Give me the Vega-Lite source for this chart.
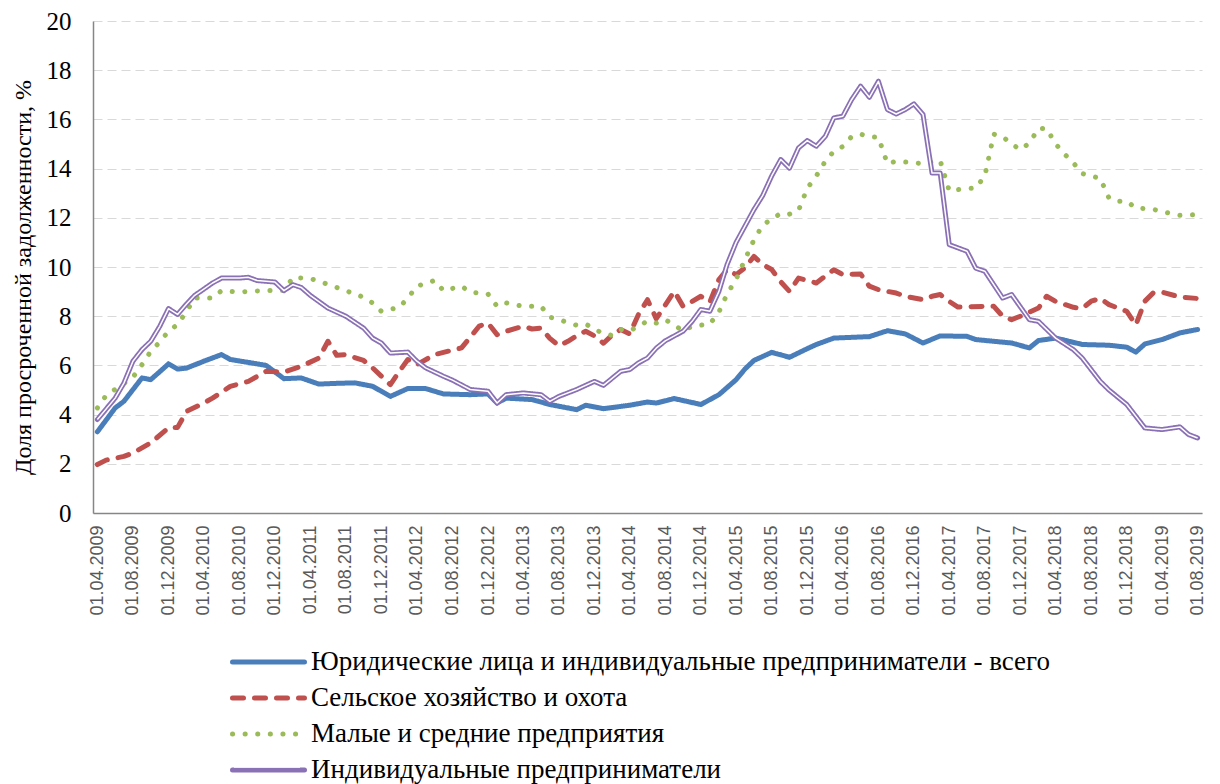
{
  "$schema": "https://vega.github.io/schema/vega-lite/v6.json",
  "autosize": {"type": "none"},
  "width": 1109,
  "height": 492,
  "padding": {"left": 93, "top": 21, "right": 18, "bottom": 271},
  "background": "white",
  "config": {
    "view": {"stroke": null},
    "axisY": {"grid": true, "gridColor": "#d9d9d9", "gridDash": [9, 5], "gridWidth": 1, "domainColor": "#868686", "domainWidth": 1.5, "ticks": false, "labelFont": "Liberation Serif", "labelFontSize": 25, "labelColor": "#000000", "labelPadding": 22},
    "axisX": {"grid": false, "ticks": false, "domainColor": "#868686", "domainWidth": 1.5, "labelFont": "Liberation Sans", "labelFontSize": 18, "labelColor": "#595959", "labelPadding": 12},
    "legend": {"labelFont": "Liberation Serif", "labelFontSize": 27, "labelColor": "#000000", "labelLimit": 1000}
  },
  "datasets": {
    "names": [
      {"s": "B", "series": "Юридические лица и индивидуальные предприниматели - всего"},
      {"s": "R", "series": "Сельское хозяйство и охота"},
      {"s": "G", "series": "Малые и средние предприятия"},
      {"s": "P", "series": "Индивидуальные предприниматели"}
    ]
  },
  "data": {"values": [
    {"date": "2009/04/01", "s": "B", "value": 3.3},
    {"date": "2009/06/01", "s": "B", "value": 4.27},
    {"date": "2009/07/01", "s": "B", "value": 4.54},
    {"date": "2009/09/01", "s": "B", "value": 5.49},
    {"date": "2009/10/01", "s": "B", "value": 5.42},
    {"date": "2009/12/01", "s": "B", "value": 6.06},
    {"date": "2010/01/01", "s": "B", "value": 5.85},
    {"date": "2010/02/01", "s": "B", "value": 5.89},
    {"date": "2010/04/01", "s": "B", "value": 6.17},
    {"date": "2010/06/01", "s": "B", "value": 6.44},
    {"date": "2010/07/01", "s": "B", "value": 6.24},
    {"date": "2010/09/01", "s": "B", "value": 6.12},
    {"date": "2010/11/01", "s": "B", "value": 6.0},
    {"date": "2011/01/01", "s": "B", "value": 5.46},
    {"date": "2011/03/01", "s": "B", "value": 5.49},
    {"date": "2011/05/01", "s": "B", "value": 5.24},
    {"date": "2011/07/01", "s": "B", "value": 5.27},
    {"date": "2011/09/01", "s": "B", "value": 5.29},
    {"date": "2011/11/01", "s": "B", "value": 5.15},
    {"date": "2011/12/01", "s": "B", "value": 4.95},
    {"date": "2012/01/01", "s": "B", "value": 4.74},
    {"date": "2012/03/01", "s": "B", "value": 5.06},
    {"date": "2012/05/01", "s": "B", "value": 5.06},
    {"date": "2012/07/01", "s": "B", "value": 4.84},
    {"date": "2012/10/01", "s": "B", "value": 4.81},
    {"date": "2012/12/01", "s": "B", "value": 4.84},
    {"date": "2013/01/01", "s": "B", "value": 4.47},
    {"date": "2013/02/01", "s": "B", "value": 4.67},
    {"date": "2013/05/01", "s": "B", "value": 4.61},
    {"date": "2013/07/01", "s": "B", "value": 4.41},
    {"date": "2013/10/01", "s": "B", "value": 4.2},
    {"date": "2013/11/01", "s": "B", "value": 4.38},
    {"date": "2014/01/01", "s": "B", "value": 4.24},
    {"date": "2014/04/01", "s": "B", "value": 4.38},
    {"date": "2014/06/01", "s": "B", "value": 4.51},
    {"date": "2014/07/01", "s": "B", "value": 4.47},
    {"date": "2014/09/01", "s": "B", "value": 4.65},
    {"date": "2014/12/01", "s": "B", "value": 4.41},
    {"date": "2015/02/01", "s": "B", "value": 4.81},
    {"date": "2015/04/01", "s": "B", "value": 5.42},
    {"date": "2015/05/01", "s": "B", "value": 5.85},
    {"date": "2015/06/01", "s": "B", "value": 6.2},
    {"date": "2015/08/01", "s": "B", "value": 6.53},
    {"date": "2015/10/01", "s": "B", "value": 6.33},
    {"date": "2015/12/01", "s": "B", "value": 6.68},
    {"date": "2016/01/01", "s": "B", "value": 6.85},
    {"date": "2016/03/01", "s": "B", "value": 7.11},
    {"date": "2016/05/01", "s": "B", "value": 7.14},
    {"date": "2016/07/01", "s": "B", "value": 7.17},
    {"date": "2016/09/01", "s": "B", "value": 7.41},
    {"date": "2016/11/01", "s": "B", "value": 7.28},
    {"date": "2017/01/01", "s": "B", "value": 6.91},
    {"date": "2017/03/01", "s": "B", "value": 7.2},
    {"date": "2017/06/01", "s": "B", "value": 7.18},
    {"date": "2017/07/01", "s": "B", "value": 7.05},
    {"date": "2017/11/01", "s": "B", "value": 6.91},
    {"date": "2018/01/01", "s": "B", "value": 6.71},
    {"date": "2018/02/01", "s": "B", "value": 7.01},
    {"date": "2018/04/01", "s": "B", "value": 7.11},
    {"date": "2018/07/01", "s": "B", "value": 6.85},
    {"date": "2018/10/01", "s": "B", "value": 6.82},
    {"date": "2018/12/01", "s": "B", "value": 6.74},
    {"date": "2019/01/01", "s": "B", "value": 6.54},
    {"date": "2019/02/01", "s": "B", "value": 6.87},
    {"date": "2019/04/01", "s": "B", "value": 7.05},
    {"date": "2019/06/01", "s": "B", "value": 7.32},
    {"date": "2019/08/01", "s": "B", "value": 7.46},

    {"date": "2009/04/01", "s": "R", "value": 1.97},
    {"date": "2009/05/01", "s": "R", "value": 2.15},
    {"date": "2009/07/01", "s": "R", "value": 2.3},
    {"date": "2009/08/01", "s": "R", "value": 2.44},
    {"date": "2009/10/01", "s": "R", "value": 2.85},
    {"date": "2009/12/01", "s": "R", "value": 3.46},
    {"date": "2010/01/01", "s": "R", "value": 3.48},
    {"date": "2010/02/01", "s": "R", "value": 4.13},
    {"date": "2010/04/01", "s": "R", "value": 4.47},
    {"date": "2010/05/01", "s": "R", "value": 4.67},
    {"date": "2010/07/01", "s": "R", "value": 5.15},
    {"date": "2010/09/01", "s": "R", "value": 5.35},
    {"date": "2010/11/01", "s": "R", "value": 5.76},
    {"date": "2011/01/01", "s": "R", "value": 5.73},
    {"date": "2011/03/01", "s": "R", "value": 5.96},
    {"date": "2011/05/01", "s": "R", "value": 6.3},
    {"date": "2011/06/01", "s": "R", "value": 6.98},
    {"date": "2011/07/01", "s": "R", "value": 6.41},
    {"date": "2011/08/01", "s": "R", "value": 6.44},
    {"date": "2011/10/01", "s": "R", "value": 6.2},
    {"date": "2011/11/01", "s": "R", "value": 5.9},
    {"date": "2012/01/01", "s": "R", "value": 5.22},
    {"date": "2012/02/01", "s": "R", "value": 5.76},
    {"date": "2012/03/01", "s": "R", "value": 6.24},
    {"date": "2012/04/01", "s": "R", "value": 6.03},
    {"date": "2012/06/01", "s": "R", "value": 6.44},
    {"date": "2012/09/01", "s": "R", "value": 6.71},
    {"date": "2012/11/01", "s": "R", "value": 7.6},
    {"date": "2012/12/01", "s": "R", "value": 7.72},
    {"date": "2013/01/01", "s": "R", "value": 7.25},
    {"date": "2013/02/01", "s": "R", "value": 7.39},
    {"date": "2013/04/01", "s": "R", "value": 7.59},
    {"date": "2013/05/01", "s": "R", "value": 7.48},
    {"date": "2013/06/01", "s": "R", "value": 7.52},
    {"date": "2013/07/01", "s": "R", "value": 7.1},
    {"date": "2013/08/01", "s": "R", "value": 6.8},
    {"date": "2013/09/01", "s": "R", "value": 6.98},
    {"date": "2013/10/01", "s": "R", "value": 7.2},
    {"date": "2013/11/01", "s": "R", "value": 7.39},
    {"date": "2013/12/01", "s": "R", "value": 7.2},
    {"date": "2014/01/01", "s": "R", "value": 6.9},
    {"date": "2014/02/01", "s": "R", "value": 7.25},
    {"date": "2014/03/01", "s": "R", "value": 7.46},
    {"date": "2014/04/01", "s": "R", "value": 7.28},
    {"date": "2014/05/01", "s": "R", "value": 8.07},
    {"date": "2014/06/01", "s": "R", "value": 8.67},
    {"date": "2014/07/01", "s": "R", "value": 7.9},
    {"date": "2014/09/01", "s": "R", "value": 9.01},
    {"date": "2014/10/01", "s": "R", "value": 8.4},
    {"date": "2014/11/01", "s": "R", "value": 8.6},
    {"date": "2014/12/01", "s": "R", "value": 8.81},
    {"date": "2015/01/01", "s": "R", "value": 8.58},
    {"date": "2015/02/01", "s": "R", "value": 9.49},
    {"date": "2015/03/01", "s": "R", "value": 9.89},
    {"date": "2015/04/01", "s": "R", "value": 9.69},
    {"date": "2015/05/01", "s": "R", "value": 9.96},
    {"date": "2015/06/01", "s": "R", "value": 10.43},
    {"date": "2015/07/01", "s": "R", "value": 10.1},
    {"date": "2015/08/01", "s": "R", "value": 9.9},
    {"date": "2015/09/01", "s": "R", "value": 9.4},
    {"date": "2015/10/01", "s": "R", "value": 9.01},
    {"date": "2015/11/01", "s": "R", "value": 9.55},
    {"date": "2016/01/01", "s": "R", "value": 9.35},
    {"date": "2016/03/01", "s": "R", "value": 9.89},
    {"date": "2016/04/01", "s": "R", "value": 9.69},
    {"date": "2016/06/01", "s": "R", "value": 9.72},
    {"date": "2016/07/01", "s": "R", "value": 9.22},
    {"date": "2016/08/01", "s": "R", "value": 9.08},
    {"date": "2016/10/01", "s": "R", "value": 8.94},
    {"date": "2016/11/01", "s": "R", "value": 8.81},
    {"date": "2017/01/01", "s": "R", "value": 8.67},
    {"date": "2017/02/01", "s": "R", "value": 8.81},
    {"date": "2017/03/01", "s": "R", "value": 8.88},
    {"date": "2017/04/01", "s": "R", "value": 8.6},
    {"date": "2017/05/01", "s": "R", "value": 8.37},
    {"date": "2017/08/01", "s": "R", "value": 8.4},
    {"date": "2017/09/01", "s": "R", "value": 8.4},
    {"date": "2017/10/01", "s": "R", "value": 8.0},
    {"date": "2017/11/01", "s": "R", "value": 7.86},
    {"date": "2017/12/01", "s": "R", "value": 8.0},
    {"date": "2018/02/01", "s": "R", "value": 8.33},
    {"date": "2018/03/01", "s": "R", "value": 8.81},
    {"date": "2018/04/01", "s": "R", "value": 8.6},
    {"date": "2018/06/01", "s": "R", "value": 8.36},
    {"date": "2018/07/01", "s": "R", "value": 8.31},
    {"date": "2018/08/01", "s": "R", "value": 8.61},
    {"date": "2018/09/01", "s": "R", "value": 8.72},
    {"date": "2018/10/01", "s": "R", "value": 8.47},
    {"date": "2018/12/01", "s": "R", "value": 8.2},
    {"date": "2019/01/01", "s": "R", "value": 7.65},
    {"date": "2019/02/01", "s": "R", "value": 8.61},
    {"date": "2019/03/01", "s": "R", "value": 8.94},
    {"date": "2019/04/01", "s": "R", "value": 8.98},
    {"date": "2019/06/01", "s": "R", "value": 8.78},
    {"date": "2019/08/01", "s": "R", "value": 8.72},

    {"date": "2009/04/01", "s": "G", "value": 4.27},
    {"date": "2009/05/01", "s": "G", "value": 4.78},
    {"date": "2009/08/01", "s": "G", "value": 5.52},
    {"date": "2009/09/01", "s": "G", "value": 6.03},
    {"date": "2009/10/01", "s": "G", "value": 6.57},
    {"date": "2009/11/01", "s": "G", "value": 6.95},
    {"date": "2009/12/01", "s": "G", "value": 7.39},
    {"date": "2010/01/01", "s": "G", "value": 7.66},
    {"date": "2010/02/01", "s": "G", "value": 8.2},
    {"date": "2010/03/01", "s": "G", "value": 8.74},
    {"date": "2010/05/01", "s": "G", "value": 8.74},
    {"date": "2010/06/01", "s": "G", "value": 9.04},
    {"date": "2010/08/01", "s": "G", "value": 8.98},
    {"date": "2010/09/01", "s": "G", "value": 9.01},
    {"date": "2010/11/01", "s": "G", "value": 9.04},
    {"date": "2011/01/01", "s": "G", "value": 9.04},
    {"date": "2011/02/01", "s": "G", "value": 9.58},
    {"date": "2011/04/01", "s": "G", "value": 9.53},
    {"date": "2011/05/01", "s": "G", "value": 9.42},
    {"date": "2011/07/01", "s": "G", "value": 9.17},
    {"date": "2011/08/01", "s": "G", "value": 9.04},
    {"date": "2011/10/01", "s": "G", "value": 8.77},
    {"date": "2011/11/01", "s": "G", "value": 8.54},
    {"date": "2011/12/01", "s": "G", "value": 8.2},
    {"date": "2012/02/01", "s": "G", "value": 8.36},
    {"date": "2012/03/01", "s": "G", "value": 8.74},
    {"date": "2012/04/01", "s": "G", "value": 9.22},
    {"date": "2012/06/01", "s": "G", "value": 9.45},
    {"date": "2012/07/01", "s": "G", "value": 9.04},
    {"date": "2012/09/01", "s": "G", "value": 9.22},
    {"date": "2012/10/01", "s": "G", "value": 8.98},
    {"date": "2012/12/01", "s": "G", "value": 8.9},
    {"date": "2013/01/01", "s": "G", "value": 8.4},
    {"date": "2013/02/01", "s": "G", "value": 8.54},
    {"date": "2013/04/01", "s": "G", "value": 8.4},
    {"date": "2013/06/01", "s": "G", "value": 8.4},
    {"date": "2013/07/01", "s": "G", "value": 7.96},
    {"date": "2013/08/01", "s": "G", "value": 7.86},
    {"date": "2013/10/01", "s": "G", "value": 7.63},
    {"date": "2013/11/01", "s": "G", "value": 7.68},
    {"date": "2014/01/01", "s": "G", "value": 7.28},
    {"date": "2014/02/01", "s": "G", "value": 7.22},
    {"date": "2014/03/01", "s": "G", "value": 7.46},
    {"date": "2014/04/01", "s": "G", "value": 7.4},
    {"date": "2014/05/01", "s": "G", "value": 7.6},
    {"date": "2014/06/01", "s": "G", "value": 7.8},
    {"date": "2014/07/01", "s": "G", "value": 7.72},
    {"date": "2014/08/01", "s": "G", "value": 7.86},
    {"date": "2014/10/01", "s": "G", "value": 7.41},
    {"date": "2014/11/01", "s": "G", "value": 7.59},
    {"date": "2015/01/01", "s": "G", "value": 7.68},
    {"date": "2015/02/01", "s": "G", "value": 8.17},
    {"date": "2015/03/01", "s": "G", "value": 8.9},
    {"date": "2015/04/01", "s": "G", "value": 9.5},
    {"date": "2015/05/01", "s": "G", "value": 10.3},
    {"date": "2015/06/01", "s": "G", "value": 11.1},
    {"date": "2015/07/01", "s": "G", "value": 11.7},
    {"date": "2015/08/01", "s": "G", "value": 11.95},
    {"date": "2015/09/01", "s": "G", "value": 12.18},
    {"date": "2015/10/01", "s": "G", "value": 12.15},
    {"date": "2015/11/01", "s": "G", "value": 12.3},
    {"date": "2015/12/01", "s": "G", "value": 13.2},
    {"date": "2016/01/01", "s": "G", "value": 13.7},
    {"date": "2016/02/01", "s": "G", "value": 14.3},
    {"date": "2016/03/01", "s": "G", "value": 14.7},
    {"date": "2016/04/01", "s": "G", "value": 14.9},
    {"date": "2016/05/01", "s": "G", "value": 15.3},
    {"date": "2016/06/01", "s": "G", "value": 15.4},
    {"date": "2016/07/01", "s": "G", "value": 15.3},
    {"date": "2016/08/01", "s": "G", "value": 15.27},
    {"date": "2016/09/01", "s": "G", "value": 14.2},
    {"date": "2016/10/01", "s": "G", "value": 14.3},
    {"date": "2016/12/01", "s": "G", "value": 14.24},
    {"date": "2017/01/01", "s": "G", "value": 14.2},
    {"date": "2017/03/01", "s": "G", "value": 14.32},
    {"date": "2017/04/01", "s": "G", "value": 13.1},
    {"date": "2017/06/01", "s": "G", "value": 13.19},
    {"date": "2017/07/01", "s": "G", "value": 13.21},
    {"date": "2017/08/01", "s": "G", "value": 13.7},
    {"date": "2017/09/01", "s": "G", "value": 15.4},
    {"date": "2017/10/01", "s": "G", "value": 15.3},
    {"date": "2017/11/01", "s": "G", "value": 15.0},
    {"date": "2017/12/01", "s": "G", "value": 14.77},
    {"date": "2018/01/01", "s": "G", "value": 15.04},
    {"date": "2018/02/01", "s": "G", "value": 15.63},
    {"date": "2018/03/01", "s": "G", "value": 15.63},
    {"date": "2018/04/01", "s": "G", "value": 15.0},
    {"date": "2018/05/01", "s": "G", "value": 14.6},
    {"date": "2018/06/01", "s": "G", "value": 14.23},
    {"date": "2018/07/01", "s": "G", "value": 13.8},
    {"date": "2018/08/01", "s": "G", "value": 13.7},
    {"date": "2018/09/01", "s": "G", "value": 13.6},
    {"date": "2018/10/01", "s": "G", "value": 12.8},
    {"date": "2018/11/01", "s": "G", "value": 12.67},
    {"date": "2018/12/01", "s": "G", "value": 12.67},
    {"date": "2019/01/01", "s": "G", "value": 12.4},
    {"date": "2019/03/01", "s": "G", "value": 12.35},
    {"date": "2019/04/01", "s": "G", "value": 12.25},
    {"date": "2019/06/01", "s": "G", "value": 12.1},
    {"date": "2019/08/01", "s": "G", "value": 12.13},

    {"date": "2009/04/01", "s": "P", "value": 3.8},
    {"date": "2009/06/01", "s": "P", "value": 4.67},
    {"date": "2009/07/01", "s": "P", "value": 5.28},
    {"date": "2009/08/01", "s": "P", "value": 6.17},
    {"date": "2009/09/01", "s": "P", "value": 6.64},
    {"date": "2009/10/01", "s": "P", "value": 6.98},
    {"date": "2009/11/01", "s": "P", "value": 7.59},
    {"date": "2009/12/01", "s": "P", "value": 8.31},
    {"date": "2010/01/01", "s": "P", "value": 8.07},
    {"date": "2010/02/01", "s": "P", "value": 8.5},
    {"date": "2010/03/01", "s": "P", "value": 8.85},
    {"date": "2010/04/01", "s": "P", "value": 9.1},
    {"date": "2010/05/01", "s": "P", "value": 9.35},
    {"date": "2010/06/01", "s": "P", "value": 9.55},
    {"date": "2010/08/01", "s": "P", "value": 9.55},
    {"date": "2010/09/01", "s": "P", "value": 9.58},
    {"date": "2010/10/01", "s": "P", "value": 9.45},
    {"date": "2010/12/01", "s": "P", "value": 9.39},
    {"date": "2011/01/01", "s": "P", "value": 9.04},
    {"date": "2011/02/01", "s": "P", "value": 9.28},
    {"date": "2011/03/01", "s": "P", "value": 9.17},
    {"date": "2011/04/01", "s": "P", "value": 8.85},
    {"date": "2011/06/01", "s": "P", "value": 8.33},
    {"date": "2011/08/01", "s": "P", "value": 8.0},
    {"date": "2011/10/01", "s": "P", "value": 7.52},
    {"date": "2011/11/01", "s": "P", "value": 7.11},
    {"date": "2011/12/01", "s": "P", "value": 6.91},
    {"date": "2012/01/01", "s": "P", "value": 6.5},
    {"date": "2012/03/01", "s": "P", "value": 6.54},
    {"date": "2012/04/01", "s": "P", "value": 6.17},
    {"date": "2012/05/01", "s": "P", "value": 5.9},
    {"date": "2012/07/01", "s": "P", "value": 5.56},
    {"date": "2012/08/01", "s": "P", "value": 5.4},
    {"date": "2012/10/01", "s": "P", "value": 5.02},
    {"date": "2012/12/01", "s": "P", "value": 4.95},
    {"date": "2013/01/01", "s": "P", "value": 4.47},
    {"date": "2013/02/01", "s": "P", "value": 4.81},
    {"date": "2013/04/01", "s": "P", "value": 4.88},
    {"date": "2013/06/01", "s": "P", "value": 4.81},
    {"date": "2013/07/01", "s": "P", "value": 4.54},
    {"date": "2013/08/01", "s": "P", "value": 4.74},
    {"date": "2013/10/01", "s": "P", "value": 5.02},
    {"date": "2013/12/01", "s": "P", "value": 5.35},
    {"date": "2014/01/01", "s": "P", "value": 5.19},
    {"date": "2014/03/01", "s": "P", "value": 5.76},
    {"date": "2014/04/01", "s": "P", "value": 5.83},
    {"date": "2014/05/01", "s": "P", "value": 6.1},
    {"date": "2014/06/01", "s": "P", "value": 6.3},
    {"date": "2014/07/01", "s": "P", "value": 6.7},
    {"date": "2014/08/01", "s": "P", "value": 7.0},
    {"date": "2014/10/01", "s": "P", "value": 7.39},
    {"date": "2014/11/01", "s": "P", "value": 7.79},
    {"date": "2014/12/01", "s": "P", "value": 8.27},
    {"date": "2015/01/01", "s": "P", "value": 8.2},
    {"date": "2015/02/01", "s": "P", "value": 9.01},
    {"date": "2015/03/01", "s": "P", "value": 10.1},
    {"date": "2015/04/01", "s": "P", "value": 11.0},
    {"date": "2015/06/01", "s": "P", "value": 12.33},
    {"date": "2015/07/01", "s": "P", "value": 12.9},
    {"date": "2015/08/01", "s": "P", "value": 13.7},
    {"date": "2015/09/01", "s": "P", "value": 14.37},
    {"date": "2015/10/01", "s": "P", "value": 14.02},
    {"date": "2015/11/01", "s": "P", "value": 14.84},
    {"date": "2015/12/01", "s": "P", "value": 15.14},
    {"date": "2016/01/01", "s": "P", "value": 14.91},
    {"date": "2016/02/01", "s": "P", "value": 15.31},
    {"date": "2016/03/01", "s": "P", "value": 16.06},
    {"date": "2016/04/01", "s": "P", "value": 16.13},
    {"date": "2016/05/01", "s": "P", "value": 16.8},
    {"date": "2016/06/01", "s": "P", "value": 17.35},
    {"date": "2016/07/01", "s": "P", "value": 16.9},
    {"date": "2016/08/01", "s": "P", "value": 17.55},
    {"date": "2016/09/01", "s": "P", "value": 16.4},
    {"date": "2016/10/01", "s": "P", "value": 16.22},
    {"date": "2016/11/01", "s": "P", "value": 16.4},
    {"date": "2016/12/01", "s": "P", "value": 16.63},
    {"date": "2017/01/01", "s": "P", "value": 16.2},
    {"date": "2017/02/01", "s": "P", "value": 13.82},
    {"date": "2017/03/01", "s": "P", "value": 13.82},
    {"date": "2017/04/01", "s": "P", "value": 10.91},
    {"date": "2017/06/01", "s": "P", "value": 10.64},
    {"date": "2017/07/01", "s": "P", "value": 9.95},
    {"date": "2017/08/01", "s": "P", "value": 9.83},
    {"date": "2017/10/01", "s": "P", "value": 8.74},
    {"date": "2017/11/01", "s": "P", "value": 8.88},
    {"date": "2018/01/01", "s": "P", "value": 7.86},
    {"date": "2018/02/01", "s": "P", "value": 7.79},
    {"date": "2018/04/01", "s": "P", "value": 7.11},
    {"date": "2018/06/01", "s": "P", "value": 6.64},
    {"date": "2018/07/01", "s": "P", "value": 6.3},
    {"date": "2018/09/01", "s": "P", "value": 5.35},
    {"date": "2018/10/01", "s": "P", "value": 5.0},
    {"date": "2018/12/01", "s": "P", "value": 4.41},
    {"date": "2019/02/01", "s": "P", "value": 3.46},
    {"date": "2019/04/01", "s": "P", "value": 3.39},
    {"date": "2019/06/01", "s": "P", "value": 3.5},
    {"date": "2019/07/01", "s": "P", "value": 3.19},
    {"date": "2019/08/01", "s": "P", "value": 3.05}
  ]},
  "transform": [
    {"lookup": "s", "from": {"data": {"name": "names"}, "key": "s", "fields": ["series"]}}
  ],
  "encoding": {
    "x": {
      "field": "date", "type": "temporal", "title": null,
      "scale": {"domain": [{"year": 2009, "month": 3, "date": 17}, {"year": 2019, "month": 8, "date": 16}], "nice": false},
      "axis": {
        "format": "%d.%m.%Y", "labelAngle": 270, "labelAlign": "right", "labelBaseline": "middle", "labelOverlap": false,
        "values": [
          {"year": 2009, "month": 4, "date": 1}, {"year": 2009, "month": 8, "date": 1}, {"year": 2009, "month": 12, "date": 1},
          {"year": 2010, "month": 4, "date": 1}, {"year": 2010, "month": 8, "date": 1}, {"year": 2010, "month": 12, "date": 1},
          {"year": 2011, "month": 4, "date": 1}, {"year": 2011, "month": 8, "date": 1}, {"year": 2011, "month": 12, "date": 1},
          {"year": 2012, "month": 4, "date": 1}, {"year": 2012, "month": 8, "date": 1}, {"year": 2012, "month": 12, "date": 1},
          {"year": 2013, "month": 4, "date": 1}, {"year": 2013, "month": 8, "date": 1}, {"year": 2013, "month": 12, "date": 1},
          {"year": 2014, "month": 4, "date": 1}, {"year": 2014, "month": 8, "date": 1}, {"year": 2014, "month": 12, "date": 1},
          {"year": 2015, "month": 4, "date": 1}, {"year": 2015, "month": 8, "date": 1}, {"year": 2015, "month": 12, "date": 1},
          {"year": 2016, "month": 4, "date": 1}, {"year": 2016, "month": 8, "date": 1}, {"year": 2016, "month": 12, "date": 1},
          {"year": 2017, "month": 4, "date": 1}, {"year": 2017, "month": 8, "date": 1}, {"year": 2017, "month": 12, "date": 1},
          {"year": 2018, "month": 4, "date": 1}, {"year": 2018, "month": 8, "date": 1}, {"year": 2018, "month": 12, "date": 1},
          {"year": 2019, "month": 4, "date": 1}, {"year": 2019, "month": 8, "date": 1}
        ]
      }
    },
    "y": {
      "field": "value", "type": "quantitative",
      "title": "Доля просроченной задолженности, %",
      "scale": {"domain": [0, 20], "nice": false},
      "axis": {
        "values": [0, 2, 4, 6, 8, 10, 12, 14, 16, 18, 20],
        "titleFont": "Liberation Serif", "titleFontSize": 24, "titleFontWeight": "normal", "titleColor": "#000000",
        "titleAngle": 270, "titleX": -70, "titleY": 256, "titleAlign": "center", "titleBaseline": "middle"
      }
    }
  },
  "layer": [
    {
      "mark": {"type": "line", "strokeCap": "round", "strokeJoin": "round"},
      "encoding": {
        "color": {
          "field": "series", "type": "nominal", "title": null,
          "scale": {
            "domain": ["Юридические лица и индивидуальные предприниматели - всего", "Сельское хозяйство и охота", "Малые и средние предприятия", "Индивидуальные предприниматели"],
            "range": ["#4a7ebb", "#c0504d", "#9bbb59", "#8a70b5"]
          },
          "legend": {
            "orient": "none", "legendX": 137, "legendY": 628, "direction": "vertical", "zindex": 0,
            "symbolType": "stroke", "symbolSize": 5184, "clipHeight": 26, "labelFont": "Liberation Serif", "labelFontSize": 27,
            "labelColor": "#000000", "labelLimit": 1000, "rowPadding": 9, "labelOffset": 4, "padding": 0,
            "encode": {
              "labels": {"update": {"font": {"value": "Liberation Serif"}, "fontSize": {"value": 27}}},
              "symbols": {"update": {"strokeCap": {"value": "round"}}}
            }
          }
        },
        "strokeDash": {
          "field": "series", "type": "nominal", "title": null,
          "scale": {
            "domain": ["Юридические лица и индивидуальные предприниматели - всего", "Сельское хозяйство и охота", "Малые и средние предприятия", "Индивидуальные предприниматели"],
            "range": [[1, 0], [11, 11], [0.1, 12.5], [1, 0]]
          }
        },
        "strokeWidth": {
          "field": "series", "type": "nominal", "title": null,
          "scale": {
            "domain": ["Юридические лица и индивидуальные предприниматели - всего", "Сельское хозяйство и охота", "Малые и средние предприятия", "Индивидуальные предприниматели"],
            "range": [5, 5, 6.5, 4.5]
          }
        }
      }
    },
    {
      "transform": [{"filter": "datum.s === 'P'"}],
      "mark": {"type": "line", "color": "#ffffff", "strokeWidth": 1.5, "strokeJoin": "round"},
      "encoding": {
        "opacity": {
          "field": "s", "type": "ordinal", "title": null,
          "scale": {"domain": ["P"], "range": [1]},
          "legend": {
            "orient": "none", "legendX": 140, "legendY": 733, "direction": "vertical", "zindex": 5,
            "symbolType": "stroke", "symbolSize": 4356, "clipHeight": 26, "padding": 0,
            "symbolStrokeColor": "#ffffff", "symbolStrokeWidth": 1.5, "symbolOpacity": 1,
            "labelExpr": "''", "labelOffset": 0,
            "encode": {"symbols": {"update": {"stroke": {"value": "#ffffff"}, "strokeWidth": {"value": 1.5}, "opacity": {"value": 1}}}}
          }
        }
      }
    }
  ]
}
